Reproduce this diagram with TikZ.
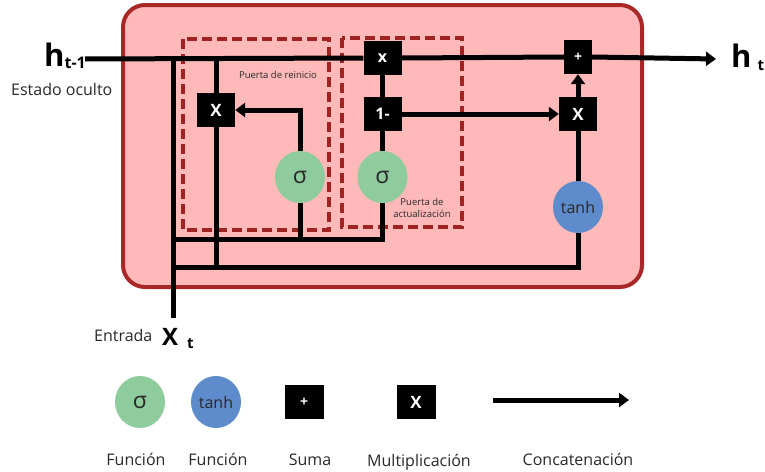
\documentclass[tikz,border=0pt]{standalone}
\usepackage{fontspec}
\setmainfont{Open Sans}
\usetikzlibrary{arrows.meta,shapes.geometric}
\definecolor{cellfill}{RGB}{255,185,185}
\definecolor{cellborder}{RGB}{168,40,40}
\definecolor{gatedash}{RGB}{160,35,35}
\definecolor{sigfill}{RGB}{142,204,158}
\definecolor{tanhfill}{RGB}{94,139,203}
\definecolor{labelgray}{RGB}{40,40,40}
\begin{document}
\begin{tikzpicture}[x=1pt,y=-1pt,
  wire/.style={line width=5pt},
  flow/.style={wire,-{Triangle[length=10pt,width=14pt]}},
  opbox/.style={rectangle,fill=black,text=white,inner sep=0pt,
    minimum width=38pt,minimum height=34pt,
    font=\bfseries\fontsize{16}{16}\selectfont},
  bigx/.style={opbox,font=\bfseries\fontsize{17}{17}\selectfont},
  plusbox/.style={opbox,font=\bfseries\fontsize{14}{14}\selectfont},
  sigmanode/.style={ellipse,fill=sigfill,inner sep=0pt,
    minimum width=50pt,minimum height=52pt,
    font=\fontsize{23}{23}\selectfont,text=labelgray},
  tanhnode/.style={ellipse,fill=tanhfill,inner sep=0pt,
    minimum width=50pt,minimum height=52pt,
    font=\fontsize{16}{16}\selectfont,text=labelgray},
  gatebox/.style={draw=gatedash,line width=3.5pt,dash pattern=on 10pt off 5pt},
  smalltxt/.style={font=\fontsize{9.5}{12}\selectfont,text=labelgray,align=center,inner sep=0pt},
  legendtxt/.style={font=\fontsize{16}{16}\selectfont,text=labelgray,inner sep=0pt,anchor=base}]
\useasboundingbox (0,0) rectangle (765,471);

% cell body
\draw[fill=cellfill,draw=cellborder,line width=4pt,rounded corners=22pt]
  (123,5) rectangle (642,287);

% gate frames
\draw[gatebox] (183,39) rectangle (329,230);
\draw[gatebox] (342,38) rectangle (462,227);
\node[smalltxt] (resetlbl) at (278,75) {Puerta de reinicio};
\node[smalltxt] (updlbl) at (422,208) {Puerta de\\actualización};

% operation nodes
\node[opbox] (topx) at (382.5,58) {x};
\node[opbox] (onem) at (382.5,114) {1-};
\node[bigx] (resx) at (216,110) {X};
\node[bigx] (updx) at (578,114) {X};
\node[plusbox,minimum width=28pt] (plus) at (578,57) {+};
\node[sigmanode] (sigr) at (300,177) {σ};
\node[sigmanode] (sigu) at (382.5,177) {σ};
\node[tanhnode] (tanh) at (578,207) {tanh};

% junction points
\coordinate (hprev) at (85,59);
\coordinate (hout) at (716,59);
\coordinate (xin) at (173,318);
\coordinate (jtop) at (173,59);
\coordinate (jres) at (216,59);
\coordinate (jresb) at (216,267);
\coordinate (jmid) at (173,239);
\coordinate (jlow) at (173,267);
\coordinate (jsig) at (300,239);

% connectors
\draw[wire] (hprev) -- (topx.west);
\draw[wire] (xin) -- (jtop);
\draw[wire] (jres) -- (resx.north);
\draw[wire] (resx.south) -- (jresb);
\draw[wire] (jmid) -| (sigu.south);
\draw[wire] (sigr.south) -- (jsig);
\draw[wire] (jlow) -| (tanh.south);
\draw[flow] (sigr.north) |- (resx.east);
\draw[wire] (topx.south) -- (onem.north);
\draw[wire] (onem.south) -- (sigu.north);
\draw[flow] (onem.east) -- (updx.west);
\draw[wire] (tanh.north) -- (updx.south);
\draw[flow] (updx.north) -- (plus.south);
\draw[wire] (topx.east) -- (plus.west);
\draw[flow] (plus.east) -- (hout);

% state and input labels
\node[anchor=base east,inner sep=0pt] (hprevlbl) at (86,66)
  {\bfseries\fontsize{31}{31}\selectfont h\raisebox{-2pt}{\fontsize{16}{16}\selectfont t-1}};
\node[anchor=base west,inner sep=0pt,font=\fontsize{16}{16}\selectfont,text=labelgray]
  (estado) at (11,95) {Estado oculto};
\node[anchor=base west,inner sep=0pt] (houtlbl) at (731,67)
  {\bfseries\fontsize{31}{31}\selectfont h\hspace{6pt}\raisebox{-3pt}{\fontsize{15}{15}\selectfont t}};
\node[anchor=base west,inner sep=0pt] (xinlbl) at (162,345)
  {\bfseries\fontsize{24}{24}\selectfont X\hspace{9pt}\raisebox{-3pt}{\fontsize{15}{15}\selectfont t}};
\node[anchor=base west,inner sep=0pt,font=\fontsize{16}{16}\selectfont,text=labelgray]
  (entrada) at (94,341) {Entrada};

% legend
\node[sigmanode] (legsig) at (140,402) {σ};
\node[tanhnode] (legtanh) at (216,402) {tanh};
\node[plusbox,minimum width=39pt] (legplus) at (304,402) {+};
\node[bigx,minimum width=39pt] (legx) at (416,402) {X};
\coordinate (legcat0) at (493,400);
\coordinate (legcat1) at (629,400);
\draw[flow] (legcat0) -- (legcat1);

\node[legendtxt] (l1) at (136,465) {Función};
\node[legendtxt] (l2) at (218,465) {Función};
\node[legendtxt] (l3) at (310,465) {Suma};
\node[legendtxt] (l4) at (419,466) {Multiplicación};
\node[legendtxt] (l5) at (578,465) {Concatenación};
\end{tikzpicture}
\end{document}
